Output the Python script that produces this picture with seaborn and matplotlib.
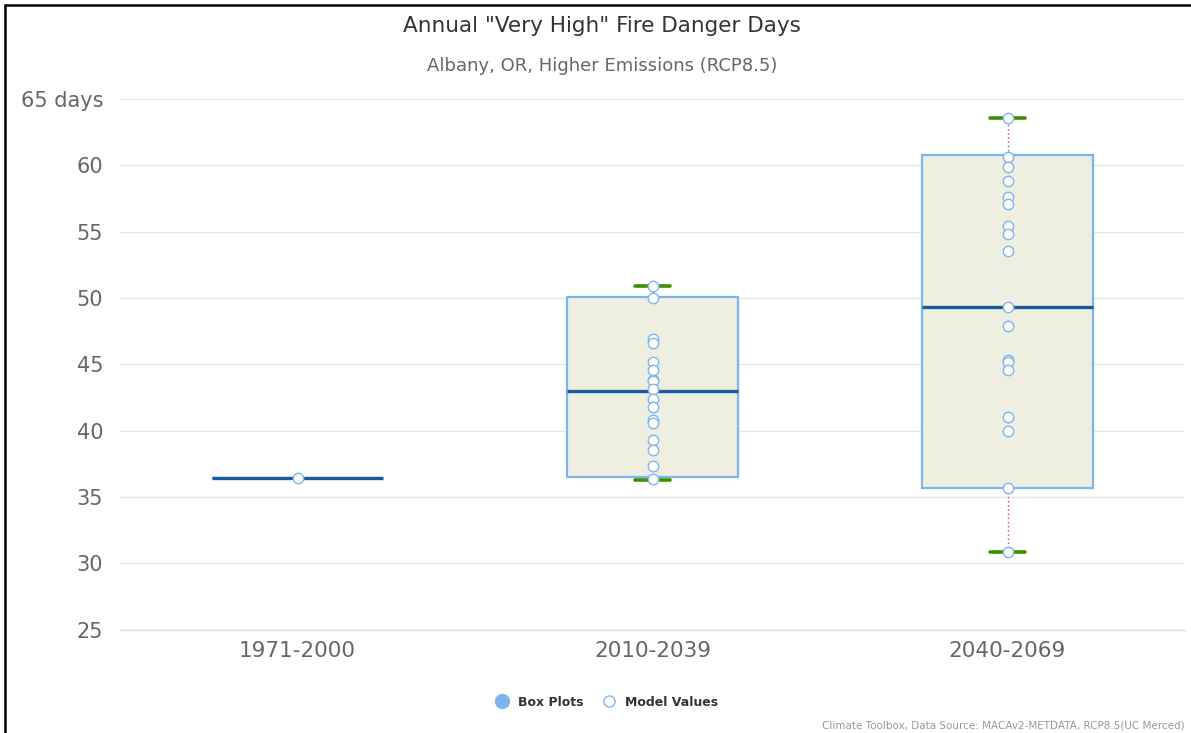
import matplotlib
matplotlib.use("Agg")
import matplotlib.pyplot as plt
from matplotlib.lines import Line2D
import seaborn as sns
import pandas as pd

# ── data ──────────────────────────────────────────────────────────────
periods = ["1971-2000", "2010-2039", "2040-2069"]

hist_values = [36.4]
mid_values = [50.9, 50.0, 46.9, 46.6, 45.2, 44.6, 43.8, 43.7, 43.1,
              42.4, 41.8, 40.8, 40.6, 39.3, 38.5, 37.3, 36.35]
late_values = [63.6, 60.65, 59.9, 58.8, 57.6, 57.1, 55.4, 54.8, 53.55,
               49.3, 47.85, 45.35, 45.15, 44.55, 41.0, 40.0, 35.7, 30.85]

# box plot statistics (as published by the toolbox)
box_low = [36.4, 36.3, 30.85]
box_q1 = [36.4, 36.5, 35.7]
box_median = [36.4, 43.0, 49.3]
box_q3 = [36.4, 50.1, 60.8]
box_high = [36.4, 50.9, 63.6]

y_ticks = [25, 30, 35, 40, 45, 50, 55, 60, 65]
y_ticklabels = ["25", "30", "35", "40", "45", "50", "55", "60", "65 days"]

# ── styling ───────────────────────────────────────────────────────────
sns.set_theme(style="white")
plt.rcParams["font.family"] = ["DejaVu Sans"]

BOX_EDGE = "#7CB5EC"
BOX_FILL = "#EEEEE1"
MEDIAN = "#1A5B9E"
CAP = "#3F8F00"
WHISKER = "#C0504D"
GRID = "#E6E6E6"
TICK_TXT = "#666666"

df = pd.DataFrame({
    "period": [periods[0]] * len(hist_values) + [periods[1]] * len(mid_values)
              + [periods[2]] * len(late_values),
    "days": hist_values + mid_values + late_values,
})

fig = plt.figure(figsize=(11.91, 7.33), dpi=100)
ax = fig.add_axes([120 / 1191, 1 - 629.5 / 733, 1065 / 1191, 530.5 / 733])

# boxes from precomputed stats
stats = []
for i, p in enumerate(periods):
    stats.append({
        "label": p, "whislo": box_low[i], "q1": box_q1[i], "med": box_median[i],
        "q3": box_q3[i], "whishi": box_high[i], "fliers": [],
    })

# the historical period is a single value -> no whisker caps shown
ax.bxp(
    stats, positions=range(len(periods)), widths=0.48, patch_artist=True,
    showfliers=False,
    boxprops=dict(facecolor=BOX_FILL, edgecolor=BOX_EDGE, linewidth=1.6),
    medianprops=dict(color=MEDIAN, linewidth=2.4),
    whiskerprops=dict(color=WHISKER, linewidth=1.0, linestyle=(0, (1, 2))),
    capprops=dict(color=CAP, linewidth=2.6),
    capwidths=[0.0, 0.1, 0.1],
    zorder=2,
)

sns.stripplot(
    data=df, x="period", y="days", order=periods, jitter=False, ax=ax,
    color="white", edgecolor=BOX_EDGE, linewidth=1.0, size=7.5, zorder=3,
)

ax.set_xlim(-0.5, 2.5)
ax.set_ylim(25, 65)
ax.set_yticks(y_ticks)
ax.set_yticklabels(y_ticklabels)
ax.set_xticks(range(len(periods)))
ax.set_xticklabels(periods)
ax.set_xlabel("")
ax.set_ylabel("")
ax.tick_params(axis="y", length=0, pad=12, labelsize=15, labelcolor=TICK_TXT)
ax.tick_params(axis="x", length=0, pad=8, labelsize=15.5, labelcolor=TICK_TXT)
ax.grid(axis="y", color=GRID, linewidth=1.0)
ax.set_axisbelow(True)
for side in ["top", "right", "left"]:
    ax.spines[side].set_visible(False)
ax.spines["bottom"].set_color("#DADADA")
ax.spines["bottom"].set_linewidth(1.0)

# titles
fig.text(602 / 1191, 1 - 26 / 733, 'Annual "Very High" Fire Danger Days',
         ha="center", va="center", fontsize=15.5, color="#333333")
fig.text(602 / 1191, 1 - 66 / 733, "Albany, OR, Higher Emissions (RCP8.5)",
         ha="center", va="center", fontsize=13, color="#666666")

# legend
handles = [
    Line2D([], [], marker="o", linestyle="none", markersize=10,
           markerfacecolor=BOX_EDGE, markeredgecolor=BOX_EDGE),
    Line2D([], [], marker="o", linestyle="none", markersize=8,
           markerfacecolor="white", markeredgecolor=BOX_EDGE),
]
fig.legend(handles, ["Box Plots", "Model Values"], loc="center",
           bbox_to_anchor=(604 / 1191, 1 - 702 / 733), ncol=2, frameon=False,
           prop={"weight": "bold", "size": 9}, handletextpad=0.3,
           columnspacing=1.0, labelcolor="#333333")

fig.text(1185 / 1191, 1 - 725 / 733,
         "Climate Toolbox, Data Source: MACAv2-METDATA, RCP8.5(UC Merced)",
         ha="right", va="center", fontsize=7.5, color="#999999")

# black frame on left and top edges
fig.add_artist(Line2D([5 / 1191, 5 / 1191], [0, 1 - 5 / 733],
                      transform=fig.transFigure, color="black", linewidth=1.8))
fig.add_artist(Line2D([5 / 1191, 1], [1 - 5 / 733, 1 - 5 / 733],
                      transform=fig.transFigure, color="black", linewidth=1.8))

fig.savefig("out.png", dpi=100)
plt.close(fig)
